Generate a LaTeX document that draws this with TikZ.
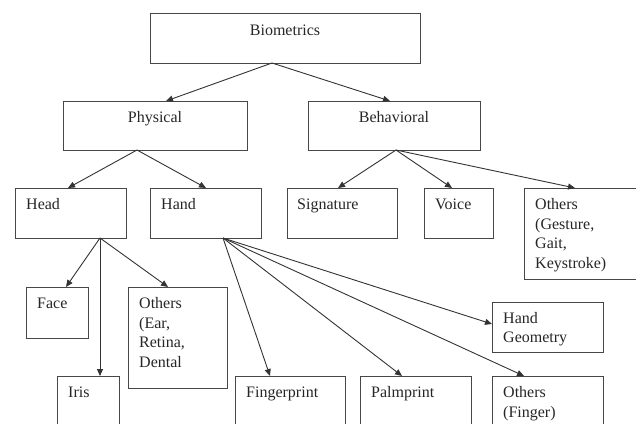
\documentclass[tikz,border=0pt]{standalone}
\usepackage{fontspec}
\setmainfont{Liberation Serif}
\usetikzlibrary{arrows.meta,calc}
\begin{document}
\begin{tikzpicture}[x=1pt,y=-1pt,
  box/.style={draw=black!72, line width=0.9pt, rectangle, inner sep=0pt, outer sep=0pt},
  lbl/.style={anchor=base west, inner sep=0pt, text width=130pt, align=left, font=\fontsize{16}{19.5}\selectfont, text=black!85},
  ctr/.style={anchor=base, inner sep=0pt, font=\fontsize{16}{19.5}\selectfont, text=black!85},
  arr/.style={draw=black!80, line width=0.9pt, -{Triangle[length=7pt,width=6pt]}}]
\useasboundingbox (0,0) rectangle (636,423);
\clip (0,0) rectangle (636,423);
% boxes
\node[box, minimum width=270pt, minimum height=50pt] (bio) at (285,38) {};
\node[box, minimum width=184pt, minimum height=49pt] (phys) at (155,125.5) {};
\node[box, minimum width=172pt, minimum height=49pt] (beh) at (394,125.5) {};
\node[box, minimum width=111pt, minimum height=50pt] (head) at (70.5,213) {};
\node[box, minimum width=111pt, minimum height=50pt] (hand) at (205.5,213) {};
\node[box, minimum width=110pt, minimum height=50pt] (sig) at (342,213) {};
\node[box, minimum width=69pt, minimum height=50pt] (voice) at (458.5,213) {};
\node[box, minimum width=126pt, minimum height=91pt] (othb) at (587,233.5) {};
\node[box, minimum width=62pt, minimum height=51pt] (face) at (57,312.5) {};
\node[box, minimum width=99pt, minimum height=101pt] (othh) at (177.5,337.5) {};
\node[box, minimum width=62pt, minimum height=54pt] (iris) at (88,403) {};
\node[box, minimum width=110pt, minimum height=54pt] (fing) at (290,403) {};
\node[box, minimum width=111pt, minimum height=54pt] (palm) at (415.5,403) {};
\node[box, minimum width=111pt, minimum height=54pt] (othf) at (547.5,403) {};
\node[box, minimum width=111pt, minimum height=50pt] (hgeo) at (547.5,327) {};
% labels
\node[ctr] (tbio) at ($(bio.north)+(0,22)$) {Biometrics};
\node[ctr] (tphys) at ($(phys.north)+(0,21.5)$) {Physical};
\node[ctr] (tbeh) at ($(beh.north)+(0,21.5)$) {Behavioral};
\node[lbl] (thead) at ($(head.north west)+(11,21.5)$) {Head};
\node[lbl] (thand) at ($(hand.north west)+(11,21.5)$) {Hand};
\node[lbl] (tsig) at ($(sig.north west)+(10,21.5)$) {Signature};
\node[lbl] (tvoice) at ($(voice.north west)+(11,21.5)$) {Voice};
\node[lbl] (tothb) at ($(othb.north west)+(11,21.5)$) {Others\\(Gesture,\\Gait,\\Keystroke)};
\node[lbl] (tface) at ($(face.north west)+(11,21.5)$) {Face};
\node[lbl] (tothh) at ($(othh.north west)+(11,21.5)$) {Others\\(Ear,\\Retina,\\Dental};
\node[lbl] (tiris) at ($(iris.north west)+(11,21.5)$) {Iris};
\node[lbl] (tfing) at ($(fing.north west)+(11,21.5)$) {Fingerprint};
\node[lbl] (tpalm) at ($(palm.north west)+(11,21.5)$) {Palmprint};
\node[lbl] (tothf) at ($(othf.north west)+(11,21.5)$) {Others\\(Finger)};
\node[lbl] (thgeo) at ($(hgeo.north west)+(11,21)$) {Hand\\Geometry};
% connectors
\draw[arr] ([xshift=-13pt]bio.south) -- ([xshift=11pt]phys.north);
\draw[arr] ([xshift=-13pt]bio.south) -- ([xshift=-4pt]beh.north);
\draw[arr] ([xshift=-18pt]phys.south) -- ([xshift=-2.5pt]head.north);
\draw[arr] ([xshift=-18pt]phys.south) -- ([xshift=0.5pt]hand.north);
\draw[arr] ([xshift=2pt]beh.south) -- ([xshift=-4pt]sig.north);
\draw[arr] ([xshift=2pt]beh.south) -- ([xshift=-6.5pt]voice.north);
\draw[arr] ([xshift=2pt]beh.south) -- ([xshift=-12pt]othb.north);
\draw[arr] ([xshift=29.5pt]head.south) -- ([xshift=9pt]face.north);
\draw[arr] ([xshift=29.5pt]head.south) -- ([xshift=12pt]iris.north);
\draw[arr] ([xshift=29.5pt]head.south) -- ([xshift=-9.5pt]othh.north);
\draw[arr] ([xshift=17.5pt]hand.south) -- ([xshift=-20pt]fing.north);
\draw[arr] ([xshift=17.5pt]hand.south) -- ([xshift=-13.5pt]palm.north);
\draw[arr] ([xshift=17.5pt]hand.south) -- ([xshift=-23.5pt]othf.north);
\draw[arr] ([xshift=17.5pt]hand.south) -- ([yshift=3pt]hgeo.west);
\end{tikzpicture}
\end{document}
